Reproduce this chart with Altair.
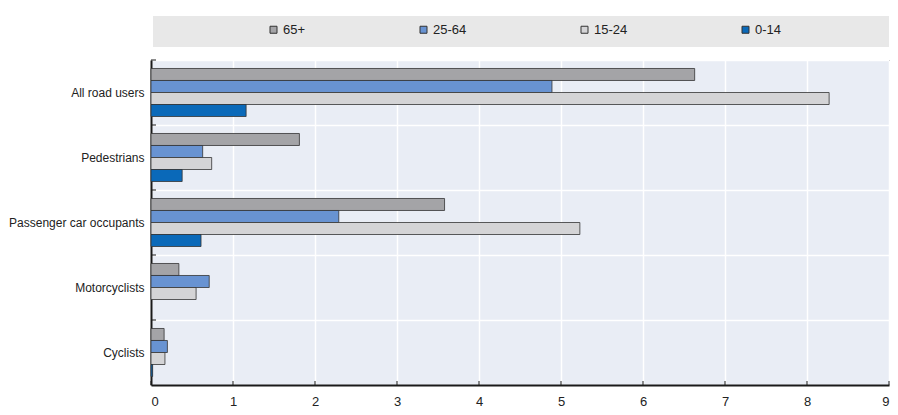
import altair as alt
import pandas as pd

categories = ["All road users", "Pedestrians", "Passenger car occupants", "Motorcyclists", "Cyclists"]
age_groups = ["65+", "25-64", "15-24", "0-14"]
colors = ["#a4a4a7", "#6893d2", "#d4d4d6", "#0a69b9"]

v65 = [6.63, 1.81, 3.58, 0.34, 0.16]
v25 = [4.89, 0.63, 2.29, 0.71, 0.20]
v15 = [8.27, 0.74, 5.23, 0.55, 0.17]
v0 = [1.16, 0.38, 0.61, None, 0.02]

x_ticks = [0, 1, 2, 3, 4, 5, 6, 7, 8, 9]

rows = []
for i, c in enumerate(categories):
    for g, vals in zip(age_groups, [v65, v25, v15, v0]):
        if vals[i] is not None:
            rows.append({"category": c, "age": g, "value": vals[i]})
df = pd.DataFrame(rows)

W, H = 738, 325
FONT = "Liberation Sans"

box = alt.Chart(pd.DataFrame({"b": [0]})).mark_rect(color="#e8e8e8").encode(
    x=alt.value(2), x2=alt.value(W), y=alt.value(-44), y2=alt.value(-13)
)

bars = alt.Chart(df).mark_bar(stroke="#333333", strokeWidth=0.8).encode(
    x=alt.X(
        "value:Q",
        scale=alt.Scale(domain=[0, 9], nice=False),
        axis=alt.Axis(
            values=x_ticks, format="d", title=None, grid=True, gridColor="white", gridWidth=1.5,
            domainColor="#1a1a1a", domainWidth=2, ticks=False, tickSize=0,
            labelPadding=10, labelFontSize=13, labelColor="#222222", labelFont=FONT,
        ),
    ),
    y=alt.Y(
        "category:N",
        sort=categories,
        scale=alt.Scale(paddingInner=0, paddingOuter=0),
        axis=alt.Axis(
            title=None, tickBand="extent", grid=True, gridColor="white", gridWidth=1.5,
            ticks=False, tickSize=0, labelPadding=7, domainColor="#1a1a1a", domainWidth=2,
            labelFontSize=12, labelColor="#222222", labelFont=FONT,
        ),
    ),
    yOffset=alt.YOffset("age:N", sort=age_groups, scale=alt.Scale(domain=age_groups, paddingInner=0, paddingOuter=0.708)),
    color=alt.Color(
        "age:N",
        sort=age_groups,
        scale=alt.Scale(domain=age_groups, range=colors),
        legend=alt.Legend(
            title=None, orient="none", legendX=116, legendY=-37, direction="horizontal",
            columnPadding=111, symbolType="square", symbolSize=49,
            symbolStrokeColor="#333333", symbolStrokeWidth=1, labelOffset=3,
            labelFontSize=13, labelColor="#222222", labelFont=FONT, padding=0,
        ),
    ),
)

xt = alt.Chart(pd.DataFrame({"t": x_ticks})).mark_rule(color="#1a1a1a", strokeWidth=1).encode(
    x=alt.X("t:Q"), y=alt.value(H - 4), y2=alt.value(H)
)

yt = alt.Chart(pd.DataFrame({"category": categories})).mark_rule(color="#1a1a1a", strokeWidth=1).encode(
    y=alt.Y("category:N", sort=categories, bandPosition=0), x=alt.value(0), x2=alt.value(5)
)

chart = alt.layer(box, bars, xt, yt).properties(
    width=W, height=H,
    autosize=alt.AutoSizeParams(type="none"),
    padding={"left": 143, "top": 52, "right": 1, "bottom": 22},
).configure(font=FONT).configure_view(fill="#e9edf5", stroke="#222222", strokeWidth=1)

chart.save("out.html", embed_options={"renderer": "svg", "actions": False})
